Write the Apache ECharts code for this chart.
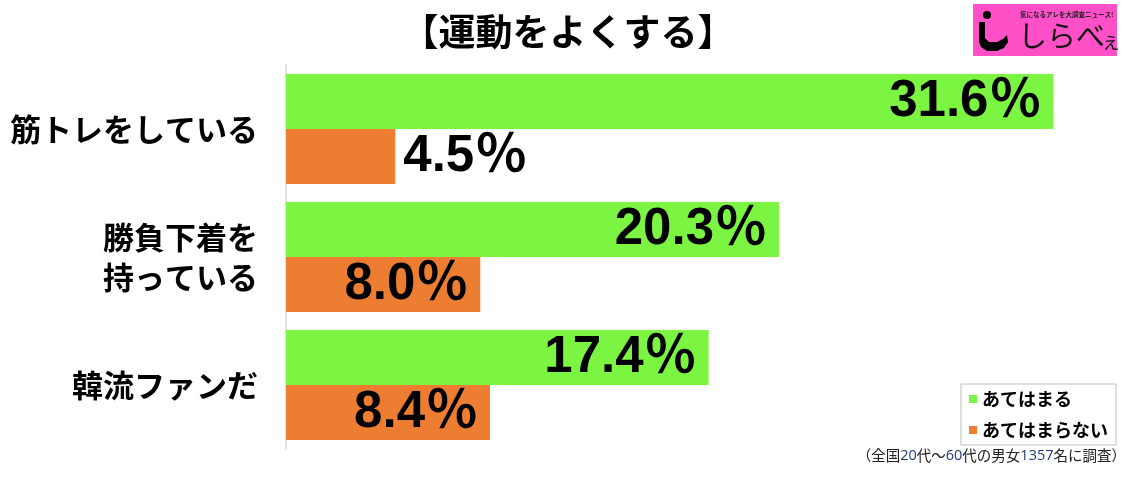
<!DOCTYPE html>
<html><head><meta charset="utf-8">
<script src="https://cdn.jsdelivr.net/npm/echarts@6/dist/echarts.min.js"></script>
<style>html,body{margin:0;padding:0;background:#fff}#c{width:1136px;height:481px}</style>
</head><body><div id="c"></div>
<script>
const categories = ['筋トレをしている', '勝負下着を\n持っている', '韓流ファンだ'];
const seriesNames = ['あてはまる', 'あてはまらない'];
const yesValues = [31.6, 20.3, 17.4];
const noValues = [4.5, 8.0, 8.4];
const chartTitle = '【運動をよくする】';
const footnote = '（全国20代～60代の男女1357名に調査）';

const labelRich = {
  d: {fontSize: 51, fontWeight: 'bold', color: '#000', fontFamily: '"Liberation Sans", Arial, sans-serif'},
  p: {fontSize: 52, fontWeight: 'bold', color: '#000', fontFamily: '"Noto Sans CJK JP", sans-serif', padding: [0, 0, 8, 1]}
};
const fmt = p => '{d|' + p.value.toFixed(1) + '}{p|％}';

const chart = echarts.init(document.getElementById('c'));

const footParts = footnote.split(/(\d+)/).filter(s => s.length);
const footText = footParts.map(s => /^\d+$/.test(s) ? '{n|' + s + '}' : '{t|' + s + '}').join('');

chart.setOption({
  animation: false,
  backgroundColor: '#fff',
  title: {
    text: chartTitle, left: 'center', top: 8,
    textStyle: {fontSize: 37, fontWeight: 'bold', color: '#000', fontFamily: '"Noto Sans CJK JP", sans-serif'}
  },
  legend: {
    orient: 'vertical', right: 20, top: 384,
    data: seriesNames,
    icon: 'rect', itemWidth: 8, itemHeight: 8, itemGap: 13,
    borderColor: '#bfbfbf', borderWidth: 1, padding: [6, 8, 6, 8],
    textStyle: {fontSize: 18, fontWeight: 'bold', color: '#000', fontFamily: '"Noto Sans CJK JP", sans-serif'}
  },
  grid: {left: 286, right: 0, top: 65, bottom: 32, containLabel: false},
  xAxis: {type: 'value', min: 0, max: 35, show: false},
  yAxis: {
    type: 'category', data: categories, inverse: true,
    axisLine: {show: true, lineStyle: {color: '#d9d9d9', width: 1.5}},
    axisTick: {show: false},
    axisLabel: {fontSize: 31, fontWeight: 'bold', color: '#000', margin: 28, lineHeight: 40,
      fontFamily: '"Noto Sans CJK JP", sans-serif', align: 'right'}
  },
  series: [
    {
      name: seriesNames[0], type: 'bar', data: yesValues, barWidth: 55, barGap: '0%',
      itemStyle: {color: '#7cf442'},
      label: {show: true, position: 'insideRight', distance: 12, formatter: fmt, rich: labelRich}
    },
    {
      name: seriesNames[1], type: 'bar',
      data: noValues.map(v => ({value: v, label: {position: v < 6 ? 'right' : 'insideRight', distance: v < 6 ? 8 : 12}})),
      barWidth: 55, barGap: '0%',
      itemStyle: {color: '#ed7d31'},
      label: {show: true, formatter: fmt, rich: labelRich}
    }
  ],
  graphic: [
    {
      type: 'text', right: 10, top: 448,
      style: {
        text: footText, fill: '#222', fontSize: 14.5,
        fontFamily: '"Noto Sans CJK JP", sans-serif',
        rich: {t: {fontSize: 14.5, fill: '#222', fontFamily: '"Noto Sans CJK JP", sans-serif'},
               n: {fontSize: 14.5, fill: '#1f3a78', fontFamily: '"Open Sans", sans-serif'}}
      }
    },
    {type: 'rect', x: 973, y: 4, shape: {x: 0, y: 0, width: 144, height: 52}, style: {fill: '#ff50c8'}},
    {type: 'circle', x: 973, y: 4, shape: {cx: 14, cy: 11, r: 4}, style: {fill: '#000'}},
    {type: 'polygon', x: 973, y: 4, shape: {points: [[6,18],[12,18],[12,34],[16,38],[24,38],[30,35],[34,31],[35,38],[31,44],[24,47],[14,47],[8,43],[6,38]]}, style: {fill: '#000'}},
    {type: 'text', x: 1020, y: 15, style: {text: '気になるアレを大調査ニュース!', fontSize: 6.5, fontWeight: 'bold', fill: '#222', fontFamily: '"Noto Sans CJK JP", sans-serif', verticalAlign: 'middle'}},
    {type: 'text', x: 1018, y: 36, style: {text: 'しらべ', fontSize: 29, fill: '#111', fontFamily: '"Noto Sans CJK JP", sans-serif', verticalAlign: 'middle'}},
    {type: 'text', x: 1101, y: 41, style: {text: 'ぇ', fontSize: 20, fill: '#111', fontFamily: '"Noto Sans CJK JP", sans-serif', verticalAlign: 'middle'}}
  ]
});
</script></body></html>
